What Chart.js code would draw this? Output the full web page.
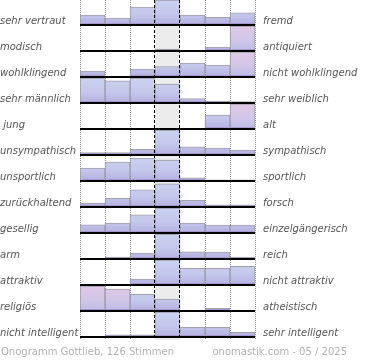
<!DOCTYPE html>
<html><head><meta charset="utf-8">
<script src="https://cdn.jsdelivr.net/npm/chart.js@4"></script>
<style>
html,body{margin:0;padding:0;background:#fff;}
#wrap{position:relative;width:370px;height:360px;}
canvas{position:absolute;left:0;top:0;}
.foot{position:absolute;top:346px;font:10px "DejaVu Sans",sans-serif;line-height:12px;color:#b0b0b0;white-space:nowrap;}
#fl{left:1px;}
#fr{right:23px;}
</style></head><body>
<div id="wrap"><canvas id="c" width="370" height="360"></canvas>
<span class="foot" id="fl"></span><span class="foot" id="fr"></span></div>
<script>
// ---- data ----
const columns = ['1', '2', '3', '4', '5', '6', '7'];
const leftLabels = ['sehr vertraut', 'modisch', 'wohlklingend', 'sehr männlich', ' jung', 'unsympathisch', 'unsportlich', 'zurückhaltend', 'gesellig', 'arm', 'attraktiv', 'religiös', 'nicht intelligent'];
const rightLabels = ['fremd', 'antiquiert', 'nicht wohlklingend', 'sehr weiblich', 'alt', 'sympathisch', 'sportlich', 'forsch', 'einzelgängerisch', 'reich', 'nicht attraktiv', 'atheistisch', 'sehr intelligent'];
const sehrVertraut     = [40, 28, 72, 100, 40, 31, 49];
const modisch          = [0, 0, 0, 8, 0, 16, 100];
const wohlklingend     = [24, 0, 32, 42, 56, 48, 100];
const sehrMaennlich    = [100, 89, 100, 76, 18, 8, 6];
const jung             = [0, 0, 0, 0, 0, 56, 100];
const unsympathisch    = [10, 10, 23, 100, 33, 28, 20];
const unsportlich      = [52, 76, 92, 84, 13, 5, 5];
const zurueckhaltend   = [16, 35, 69, 93, 27, 9, 9];
const gesellig         = [33, 40, 73, 100, 40, 32, 32];
const arm              = [0, 8, 24, 100, 29, 28, 8];
const attraktiv        = [0, 0, 24, 100, 67, 67, 75];
const religioes        = [100, 88, 67, 48, 0, 11, 0];
const nichtIntelligent = [0, 9, 9, 100, 39, 39, 19];
const rows = [sehrVertraut, modisch, wohlklingend, sehrMaennlich, jung, unsympathisch, unsportlich, zurueckhaltend, gesellig, arm, attraktiv, religioes, nichtIntelligent];
const footerLeft = 'Onogramm Gottlieb, 126 Stimmen';
const footerRight = 'onomastik.com - 05 / 2025';

// ---- style / layout ----
const pinkCells = [[1, 6], [2, 6], [4, 6], [11, 0], [11, 1]];
const FULL = 25 / 26;          // full bar height in row units
const Y_MIN = 1 / 26, Y_MAX = 341 / 26;
const labelFont = {family: 'DejaVu Sans', size: 10, style: 'italic'};

document.getElementById('fl').textContent = footerLeft;
document.getElementById('fr').textContent = footerRight;

function isPink(r, c) { return pinkCells.some(p => p[0] === r && p[1] === c); }

function barFill(ctx) {
  const chart = ctx.chart;
  const r = ctx.dataset.rowIndex;
  const pink = isPink(r, ctx.dataIndex);
  if (!chart.chartArea || !chart.scales.y) return pink ? '#d6c6e8' : '#c2c4ea';
  const y = chart.scales.y;
  const base = y.getPixelForValue(r + 1);
  const top = y.getPixelForValue(r + 1 - FULL);
  const g = chart.ctx.createLinearGradient(0, top, 0, base);
  if (pink) {
    g.addColorStop(0, '#e0c8e6');
    g.addColorStop(0.55, '#d2c6e8');
    g.addColorStop(0.9, '#c0bee6');
  } else {
    g.addColorStop(0, '#cbd2ee');
    g.addColorStop(0.55, '#c4c8ec');
    g.addColorStop(0.9, '#b8b6e2');
  }
  g.addColorStop(0.93, '#a899d0');
  g.addColorStop(1, '#a394cc');
  return g;
}

const datasets = rows.map((vals, r) => ({
  rowIndex: r,
  data: vals.map(v => [r + 1, r + 1 - v / 100 * FULL]),
  backgroundColor: barFill,
  borderColor: 'rgba(130,130,140,0.75)',
  borderWidth: {top: 1, left: 1, right: 1, bottom: 0},
  borderSkipped: false,
  grouped: false,
  barPercentage: 1,
  categoryPercentage: 1,
  order: 1
}));
datasets.push({
  data: columns.map((c, i) => i === 3 ? [Y_MIN, Y_MAX] : null),
  backgroundColor: '#ececec',
  borderWidth: 0,
  grouped: false,
  barPercentage: 1,
  categoryPercentage: 1,
  order: 5
});

const centerLines = {
  id: 'centerLines',
  afterDatasetsDraw(chart) {
    const x = chart.scales.x, a = chart.chartArea, c = chart.ctx;
    const w = x.getPixelForValue(1) - x.getPixelForValue(0);
    const cx = x.getPixelForValue(3);
    c.save();
    c.strokeStyle = '#000';
    c.lineWidth = 1;
    c.setLineDash([3, 2]);
    [cx - w / 2, cx + w / 2].forEach(px => {
      const p = Math.round(px) - 0.5;
      c.beginPath(); c.moveTo(p, a.top); c.lineTo(p, a.bottom); c.stroke();
    });
    c.restore();
  }
};

const rowTicks = scale => { scale.ticks = rows.map((_, i) => ({value: i + 1})); };

new Chart(document.getElementById('c'), {
  type: 'bar',
  data: {labels: columns, datasets},
  options: {
    responsive: false,
    devicePixelRatio: 1,
    animation: false,
    layout: {padding: {left: 0, right: 0, top: 0, bottom: 20}},
    plugins: {legend: {display: false}, tooltip: {enabled: false}},
    scales: {
      x: {
        type: 'category',
        ticks: {display: false},
        grid: {
          offset: true, drawTicks: false, lineWidth: 1,
          color: ctx => (ctx.index === 3 || ctx.index === 4) ? 'rgba(0,0,0,0)' : '#8c8c8c'
        },
        border: {display: false, dash: [1, 1]},
        afterFit(s) { s.height = 0; s.paddingLeft = 0; s.paddingRight = 0; }
      },
      y: {
        type: 'linear', position: 'left', reverse: true, min: Y_MIN, max: Y_MAX,
        afterBuildTicks: rowTicks,
        ticks: {
          autoSkip: false, crossAlign: 'far', labelOffset: -4, padding: 0,
          font: labelFont, color: '#555',
          callback: (v, i) => leftLabels[i]
        },
        grid: {color: '#000', lineWidth: 2, drawTicks: false, z: 1},
        border: {display: false},
        afterFit(s) { s.width = 80; s.paddingTop = 0; s.paddingBottom = 0; }
      },
      yr: {
        type: 'linear', position: 'right', reverse: true, min: Y_MIN, max: Y_MAX,
        afterBuildTicks: rowTicks,
        ticks: {
          autoSkip: false, labelOffset: -4, padding: 8,
          font: labelFont, color: '#555',
          callback: (v, i) => rightLabels[i]
        },
        grid: {display: false, drawTicks: false},
        border: {display: false},
        afterFit(s) { s.width = 115; s.paddingTop = 0; s.paddingBottom = 0; }
      }
    }
  },
  plugins: [centerLines]
});
</script>
</body></html>
